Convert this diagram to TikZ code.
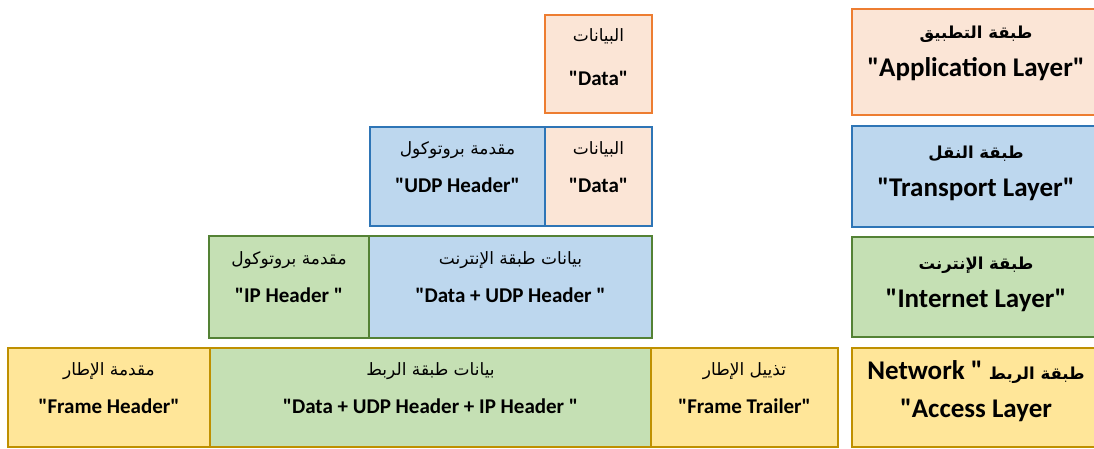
\documentclass[tikz,border=0pt]{standalone}
\usepackage{fontspec}
\setmainfont{Carlito}[Ligatures=TeXOff]
\newfontfamily\arabicfont[Script=Arabic]{DejaVu Sans}
\TeXXeTstate=1
\usepackage{tikz}
\usepackage{xcolor}

\definecolor{orline}{HTML}{ED7D31}
\definecolor{orfill}{HTML}{FBE5D6}
\definecolor{blline}{HTML}{2E75B6}
\definecolor{blfill}{HTML}{BDD7EE}
\definecolor{grline}{HTML}{548235}
\definecolor{grfill}{HTML}{C5E0B4}
\definecolor{gdline}{HTML}{BF9000}
\definecolor{gdfill}{HTML}{FFE699}

\newcommand\arline[1]{{\arabicfont\mdseries\fontsize{17}{38}\selectfont\beginR#1\endR}}
\newcommand\arhead[1]{{\arabicfont\bfseries\fontsize{16.5}{38}\selectfont\beginR#1\endR}}

\begin{document}
\begin{tikzpicture}[x=1pt,y=-1pt,
  cell/.style={draw,line width=2.5pt,inner sep=0pt,outer sep=0pt,align=center,
    font=\bfseries\fontsize{21}{38}\selectfont,text height=38pt,text depth=7pt},
  layer/.style={cell,font=\bfseries\fontsize{27}{38}\selectfont,text height=44pt,
    text depth=4pt,minimum width=248pt},
  orbox/.style={draw=orline,fill=orfill},
  blbox/.style={draw=blline,fill=blfill},
  grbox/.style={draw=grline,fill=grfill},
  gdbox/.style={draw=gdline,fill=gdfill}]
\useasboundingbox (0,0) rectangle (1094,448);
% packet rows
\node[cell,orbox,minimum width=107pt,minimum height=98pt,text height=48pt,text depth=6pt] (appdata) at (598.5,64) {\arline{البيانات}\\[6pt]"Data"};
\node[cell,blbox,minimum width=175pt,minimum height=99pt] (udphdr) at (457.5,176.5) {\arline{مقدمة بروتوكول}\\"UDP Header"};
\node[cell,orbox,draw=blline,minimum width=107pt,minimum height=99pt] (trdata) at (598.5,176.5) {\arline{البيانات}\\"Data"};
\node[cell,grbox,minimum width=160pt,minimum height=102pt] (iphdr) at (289,287) {\arline{مقدمة بروتوكول}\\"IP Header "};
\node[cell,blbox,draw=grline,minimum width=283pt,minimum height=102pt] (indata) at (510.5,287) {\arline{بيانات طبقة الإنترنت}\\"Data + UDP Header "};
\node[cell,gdbox,minimum width=202pt,minimum height=99pt] (frhdr) at (109,397.5) {\arline{مقدمة الإطار}\\"Frame Header"};
\node[cell,grbox,draw=gdline,minimum width=441pt,minimum height=99pt] (lkdata) at (430.5,397.5) {\arline{بيانات طبقة الربط}\\"Data + UDP Header + IP Header "};
\node[cell,gdbox,minimum width=187pt,minimum height=99pt] (frtrl) at (744.5,397.5) {\arline{تذييل الإطار}\\"Frame Trailer"};
% layer names
\node[layer,orbox,minimum height=106pt,text height=34pt,text depth=6pt] (applayer) at (976,62) {\arhead{طبقة التطبيق}\\"Application Layer"};
\node[layer,blbox,minimum height=101pt] (trlayer) at (976,176.5) {\arhead{طبقة النقل}\\"Transport Layer"};
\node[layer,grbox,minimum height=100pt] (inlayer) at (976,287) {\arhead{طبقة الإنترنت}\\"Internet Layer"};
\node[layer,gdbox,minimum height=99pt] (nalayer) at (976,397.5) {Network " \arhead{طبقة الربط}\\"Access Layer};
\end{tikzpicture}
\end{document}
